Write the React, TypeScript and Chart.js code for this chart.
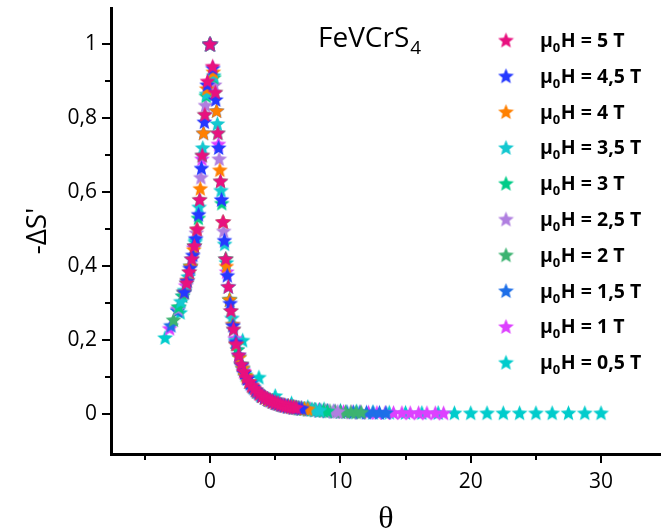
import React, { useEffect, useRef } from 'react';
import { Chart, registerables } from 'chart.js';

Chart.register(...registerables);

// ---- Data (θ, -ΔS' normalised) ----
const fieldLabels = ['5 T', '4,5 T', '4 T', '3,5 T', '3 T', '2,5 T', '2 T', '1,5 T', '1 T', '0,5 T'];
const seriesColors = ['#E8117F', '#2438FF', '#FF8000', '#14C8D0', '#00CC88', '#B07FE0', '#3CB371', '#1E6FE8', '#DD40FF', '#00CCCC'];

const s5T: [number, number][] = [
  [-1.8, 0.355], [-1.6, 0.385], [-1.4, 0.42], [-1.2, 0.455], [-1.0, 0.5], [-0.8, 0.58], [-0.6, 0.7], [-0.4, 0.81], [-0.2, 0.9], [0, 1.0],
  [0.2, 0.94], [0.4, 0.87], [0.6, 0.76], [0.8, 0.63], [1.0, 0.52], [1.2, 0.42], [1.4, 0.345], [1.6, 0.28], [1.8, 0.23], [2.0, 0.19],
  [2.2, 0.16], [2.4, 0.135], [2.6, 0.115], [2.8, 0.1], [3.0, 0.088], [3.2, 0.078], [3.4, 0.07], [3.6, 0.062], [3.8, 0.056], [4.0, 0.05],
  [4.2, 0.046], [4.4, 0.042], [4.6, 0.039], [4.8, 0.035], [5.0, 0.032], [5.2, 0.03], [5.4, 0.027], [5.6, 0.025], [5.8, 0.023], [6.0, 0.022],
  [6.2, 0.02], [6.4, 0.019], [6.6, 0.018],
];
const s45T: [number, number][] = [
  [-1.98, 0.33], [-1.76, 0.36], [-1.54, 0.395], [-1.32, 0.43], [-1.1, 0.475], [-0.88, 0.54], [-0.66, 0.665], [-0.44, 0.79], [-0.22, 0.89], [0, 1.0],
  [0.22, 0.935], [0.44, 0.85], [0.66, 0.72], [0.88, 0.58], [1.1, 0.47], [1.32, 0.375], [1.54, 0.3], [1.76, 0.24], [1.98, 0.195], [2.2, 0.16],
  [2.42, 0.133], [2.64, 0.112], [2.86, 0.096], [3.08, 0.084], [3.3, 0.074], [3.52, 0.065], [3.74, 0.058], [3.96, 0.051], [4.18, 0.046], [4.4, 0.042],
  [4.62, 0.038], [4.84, 0.035], [5.06, 0.031], [5.28, 0.029], [5.5, 0.026], [5.72, 0.024], [5.94, 0.022], [6.16, 0.021], [6.38, 0.019], [6.6, 0.018],
  [6.82, 0.017], [7.04, 0.016],
];
const s4T: [number, number][] = [
  [-2.0, 0.33], [-1.75, 0.362], [-1.5, 0.4], [-1.25, 0.445], [-1.0, 0.5], [-0.75, 0.61], [-0.5, 0.76], [-0.25, 0.88], [0, 1.0],
  [0.25, 0.925], [0.5, 0.82], [0.75, 0.66], [1.0, 0.52], [1.25, 0.4], [1.5, 0.31], [1.75, 0.243], [2.0, 0.19], [2.25, 0.154], [2.5, 0.125],
  [2.75, 0.104], [3.0, 0.088], [3.25, 0.076], [3.5, 0.066], [3.75, 0.057], [4.0, 0.05], [4.25, 0.045], [4.5, 0.04], [4.75, 0.036], [5.0, 0.032],
  [5.25, 0.029], [5.5, 0.026], [5.75, 0.024], [6.0, 0.022], [6.25, 0.02], [6.5, 0.019], [6.75, 0.017], [7.0, 0.016], [7.25, 0.015], [7.5, 0.014],
];
const s35T: [number, number][] = [
  [-2.24, 0.305], [-1.96, 0.335], [-1.68, 0.372], [-1.4, 0.42], [-1.12, 0.47], [-0.84, 0.56], [-0.56, 0.72], [-0.28, 0.865], [0, 1.0],
  [0.28, 0.915], [0.56, 0.785], [0.84, 0.605], [1.12, 0.46], [1.4, 0.345], [1.68, 0.26], [1.96, 0.2], [2.24, 0.155], [2.52, 0.123], [2.8, 0.1],
  [3.08, 0.084], [3.36, 0.071], [3.64, 0.061], [3.92, 0.052], [4.2, 0.046], [4.48, 0.04], [4.76, 0.036], [5.04, 0.032], [5.32, 0.028], [5.6, 0.025],
  [5.88, 0.023], [6.16, 0.021], [6.44, 0.019], [6.72, 0.017], [7.0, 0.016], [7.28, 0.015], [7.56, 0.014], [7.84, 0.013], [8.12, 0.012], [8.4, 0.011],
];
const s3T: [number, number][] = [
  [-2.4, 0.29], [-2.1, 0.32], [-1.8, 0.355], [-1.5, 0.4], [-1.2, 0.455], [-0.9, 0.53], [-0.6, 0.7], [-0.3, 0.86], [0, 1.0],
  [0.3, 0.91], [0.6, 0.76], [0.9, 0.57], [1.2, 0.42], [1.5, 0.31], [1.8, 0.23], [2.1, 0.175], [2.4, 0.135], [2.7, 0.107], [3.0, 0.088],
  [3.3, 0.074], [3.6, 0.062], [3.9, 0.053], [4.2, 0.046], [4.5, 0.04], [4.8, 0.035], [5.1, 0.031], [5.4, 0.027], [5.7, 0.024], [6.0, 0.022],
  [6.3, 0.02], [6.6, 0.018], [6.9, 0.016], [7.2, 0.015], [7.5, 0.014], [7.8, 0.013], [8.1, 0.012], [8.4, 0.011], [8.7, 0.01], [9.0, 0.009],
];
const s25T: [number, number][] = [
  [-2.45, 0.285], [-2.1, 0.32], [-1.75, 0.362], [-1.4, 0.42], [-1.05, 0.49], [-0.7, 0.64], [-0.35, 0.835], [0, 1.0],
  [0.35, 0.89], [0.7, 0.69], [1.05, 0.495], [1.4, 0.345], [1.75, 0.243], [2.1, 0.175], [2.45, 0.13], [2.8, 0.1], [3.15, 0.08], [3.5, 0.066],
  [3.85, 0.055], [4.2, 0.046], [4.55, 0.039], [4.9, 0.034], [5.25, 0.029], [5.6, 0.025], [5.95, 0.022], [6.3, 0.02], [6.65, 0.018], [7.0, 0.016],
  [7.35, 0.015], [7.7, 0.013], [8.05, 0.012], [8.4, 0.011], [8.75, 0.01], [9.1, 0.009], [9.45, 0.008], [9.8, 0.0075],
];
const s2T: [number, number][] = [
  [-2.8, 0.255], [-2.4, 0.29], [-2.0, 0.33], [-1.6, 0.385], [-1.2, 0.455], [-0.8, 0.58], [-0.4, 0.81], [0, 1.0],
  [0.4, 0.87], [0.8, 0.63], [1.2, 0.42], [1.6, 0.28], [2.0, 0.19], [2.4, 0.135], [2.8, 0.1], [3.2, 0.078], [3.6, 0.062], [4.0, 0.05],
  [4.4, 0.042], [4.8, 0.035], [5.2, 0.03], [5.6, 0.025], [6.0, 0.022], [6.4, 0.019], [6.8, 0.017], [7.2, 0.015], [7.6, 0.014], [8.0, 0.012],
  [8.4, 0.011], [8.8, 0.0095], [9.2, 0.0088], [9.6, 0.008], [10.0, 0.007], [10.4, 0.0066], [10.8, 0.0062], [11.2, 0.0058], [11.6, 0.0055],
];
const s15T: [number, number][] = [
  [-3.0, 0.24], [-2.5, 0.28], [-2.0, 0.33], [-1.5, 0.4], [-1.0, 0.5], [-0.5, 0.76], [0, 1.0],
  [0.5, 0.82], [1.0, 0.52], [1.5, 0.31], [2.0, 0.19], [2.5, 0.125], [3.0, 0.088], [3.5, 0.066], [4.0, 0.05], [4.5, 0.04],
  [5.0, 0.032], [5.5, 0.026], [6.0, 0.022], [6.5, 0.019], [7.0, 0.016], [7.5, 0.014], [8.0, 0.012], [8.5, 0.0105], [9.0, 0.009],
  [9.5, 0.008], [10.0, 0.007], [10.5, 0.0065], [11.0, 0.006], [11.5, 0.0055], [12.0, 0.005], [12.5, 0.0048], [13.0, 0.0045], [13.5, 0.0043],
];
const s1T: [number, number][] = [
  [-3.1, 0.232], [-2.48, 0.283], [-1.86, 0.348], [-1.24, 0.45], [-0.62, 0.69], [0, 1.0],
  [0.64, 0.73], [1.28, 0.385], [1.92, 0.205], [2.56, 0.118], [3.2, 0.078], [3.84, 0.055], [4.48, 0.04], [5.12, 0.03], [5.76, 0.024],
  [6.4, 0.019], [7.04, 0.016], [7.68, 0.0135], [8.32, 0.011], [8.96, 0.0092], [9.6, 0.008], [10.24, 0.0068], [10.88, 0.006], [11.52, 0.0055],
  [12.16, 0.005], [12.8, 0.0046], [13.44, 0.0043], [14.08, 0.004], [14.72, 0.0038], [15.36, 0.0036], [16.0, 0.0035], [16.64, 0.0034],
  [17.28, 0.0033], [17.92, 0.0032],
];
const s05T: [number, number][] = [
  [-3.45, 0.207], [-2.3, 0.275], [-1.15, 0.465], [0, 1.0],
  [1.25, 0.41], [2.5, 0.2], [3.75, 0.1], [5.0, 0.05], [6.25, 0.03], [7.5, 0.02], [8.75, 0.014], [10.0, 0.01], [11.25, 0.008],
  [12.5, 0.006], [13.75, 0.005], [15.0, 0.0045], [16.25, 0.004], [17.5, 0.004], [18.75, 0.0035], [20.0, 0.0035], [21.25, 0.0035],
  [22.5, 0.0035], [23.75, 0.0035], [25.0, 0.0035], [26.25, 0.0035], [27.5, 0.0035], [28.75, 0.0035], [30.0, 0.0035],
];
const allSeries = [s5T, s45T, s4T, s35T, s3T, s25T, s2T, s15T, s1T, s05T];

const xTickValues = [0, 10, 20, 30];
const xMinorTicks = [-5, 5, 15, 25];
const yTickValues = [0, 0.2, 0.4, 0.6, 0.8, 1];
const yMinorTicks = [0.1, 0.3, 0.5, 0.7, 0.9];
const xRange = [-7.6, 34.6];
const yRange = [-0.108, 1.097];
const compoundName = 'FeVCrS';
const compoundSub = '4';

function makeStar(color: string, size = 17): HTMLCanvasElement {
  const c = document.createElement('canvas');
  c.width = size;
  c.height = size;
  const ctx = c.getContext('2d')!;
  const R = size / 2 - 0.2;
  const r = R * 0.44;
  const cx = size / 2;
  const cy = size / 2 + 0.8;
  ctx.beginPath();
  for (let i = 0; i < 10; i++) {
    const rad = i % 2 === 0 ? R : r;
    const a = -Math.PI / 2 + (i * Math.PI) / 5;
    const px = cx + rad * Math.cos(a);
    const py = cy + rad * Math.sin(a);
    if (i === 0) ctx.moveTo(px, py);
    else ctx.lineTo(px, py);
  }
  ctx.closePath();
  ctx.fillStyle = color;
  ctx.fill();
  return c;
}

function fmtComma(v: number): string {
  if (Math.abs(v) < 1e-9) return '0';
  if (Math.abs(v - Math.round(v)) < 1e-9) return String(Math.round(v));
  return v.toFixed(1).replace('.', ',');
}

export default function App() {
  const canvasRef = useRef<HTMLCanvasElement | null>(null);

  useEffect(() => {
    document.body.style.margin = '0';
    const canvas = canvasRef.current;
    if (!canvas) return;
    const stars = seriesColors.map((c) => makeStar(c));

    const decor = {
      id: 'decor',
      afterDraw(chart: any) {
        const { ctx, chartArea } = chart;
        const xs = chart.scales.x;
        const ys = chart.scales.y;
        ctx.save();
        ctx.strokeStyle = '#000';
        ctx.lineWidth = 2;
        ctx.lineCap = 'butt';
        const left = chartArea.left;
        const bottom = chartArea.bottom;
        const seg = (x1: number, y1: number, x2: number, y2: number) => {
          ctx.beginPath();
          ctx.moveTo(x1, y1);
          ctx.lineTo(x2, y2);
          ctx.stroke();
        };
        yTickValues.forEach((v) => {
          const py = Math.round(ys.getPixelForValue(v));
          seg(left - 9, py, left, py);
        });
        yMinorTicks.forEach((v) => {
          const py = Math.round(ys.getPixelForValue(v));
          seg(left - 6, py, left, py);
        });
        xTickValues.forEach((v) => {
          const px = Math.round(xs.getPixelForValue(v));
          seg(px, bottom, px, bottom + 9);
        });
        xMinorTicks.forEach((v) => {
          const px = Math.round(xs.getPixelForValue(v));
          seg(px, bottom, px, bottom + 6);
        });

        // compound label
        ctx.fillStyle = '#000';
        ctx.textAlign = 'left';
        ctx.textBaseline = 'alphabetic';
        ctx.font = '28px "Open Sans"';
        const tx0 = 318;
        ctx.fillText(compoundName, tx0, 47);
        const w0 = ctx.measureText(compoundName).width;
        ctx.font = '19px "Open Sans"';
        ctx.fillText(compoundSub, tx0 + w0 + 1, 54);

        // legend
        chart.data.datasets.forEach((ds: any, i: number) => {
          const cy = 40 + i * 35.8;
          const st = stars[i];
          ctx.drawImage(st, 506 - st.width / 2, cy - st.height / 2);
          let tx = 540;
          ctx.font = 'bold 19.5px "Open Sans"';
          ctx.fillText('μ', tx, cy + 7);
          tx += ctx.measureText('μ').width;
          ctx.font = 'bold 13px "Open Sans"';
          ctx.fillText('0', tx, cy + 12);
          tx += ctx.measureText('0').width + 0.5;
          ctx.font = 'bold 19.5px "Open Sans"';
          ctx.fillText('H = ' + fieldLabels[i], tx, cy + 7);
        });
        ctx.restore();
      },
    };

    const chart = new Chart(canvas, {
      type: 'scatter',
      data: {
        datasets: allSeries.map((s, i) => ({
          label: 'μ₀H = ' + fieldLabels[i],
          data: s.map(([x, y]) => ({ x, y })),
          pointStyle: stars[i] as any,
          pointRadius: 8,
          backgroundColor: seriesColors[i],
          borderColor: seriesColors[i],
          showLine: false,
        })),
      },
      options: {
        responsive: false,
        animation: false,
        devicePixelRatio: 1,
        layout: { autoPadding: false, padding: { top: 8, right: 0, bottom: 0, left: 0 } },
        plugins: {
          legend: { display: false },
          tooltip: { enabled: false },
        },
        scales: {
          x: {
            type: 'linear',
            min: xRange[0],
            max: xRange[1],
            afterBuildTicks: (scale: any) => {
              scale.ticks = xTickValues.map((v) => ({ value: v }));
            },
            afterFit: (scale: any) => {
              scale.height = 76;
              scale.paddingLeft = 0;
              scale.paddingRight = 0;
            },
            grid: { display: false, drawTicks: false },
            border: { display: true, color: '#000', width: 3 },
            ticks: {
              color: '#000',
              font: { family: 'Open Sans', size: 21 },
              padding: 15,
              maxRotation: 0,
              autoSkip: false,
              callback: (v: any) => fmtComma(Number(v)),
            },
            title: {
              display: true,
              text: 'θ',
              color: '#000',
              font: { family: 'Liberation Serif', size: 32, lineHeight: 0.65 },
              padding: { top: 0, bottom: 0 },
            },
          },
          y: {
            type: 'linear',
            min: yRange[0],
            max: yRange[1],
            afterBuildTicks: (scale: any) => {
              scale.ticks = yTickValues.map((v) => ({ value: v }));
            },
            afterFit: (scale: any) => {
              scale.width = 111;
              scale.paddingTop = 0;
              scale.paddingBottom = 0;
            },
            grid: { display: false, drawTicks: false },
            border: { display: true, color: '#000', width: 3 },
            ticks: {
              color: '#000',
              font: { family: 'Open Sans', size: 21 },
              padding: 14,
              callback: (v: any) => fmtComma(Number(v)),
            },
            title: {
              display: true,
              text: "-ΔS'",
              color: '#000',
              font: { family: 'Open Sans', size: 28 },
              padding: { top: 21, bottom: 0 },
            },
          },
        },
      },
      plugins: [decor],
    } as any);

    return () => chart.destroy();
  }, []);

  return (
    <div style={{ position: 'absolute', left: 0, top: 0, width: 661, height: 530 }}>
      <canvas ref={canvasRef} width={661} height={530} style={{ display: 'block', width: 661, height: 530 }} />
    </div>
  );
}
